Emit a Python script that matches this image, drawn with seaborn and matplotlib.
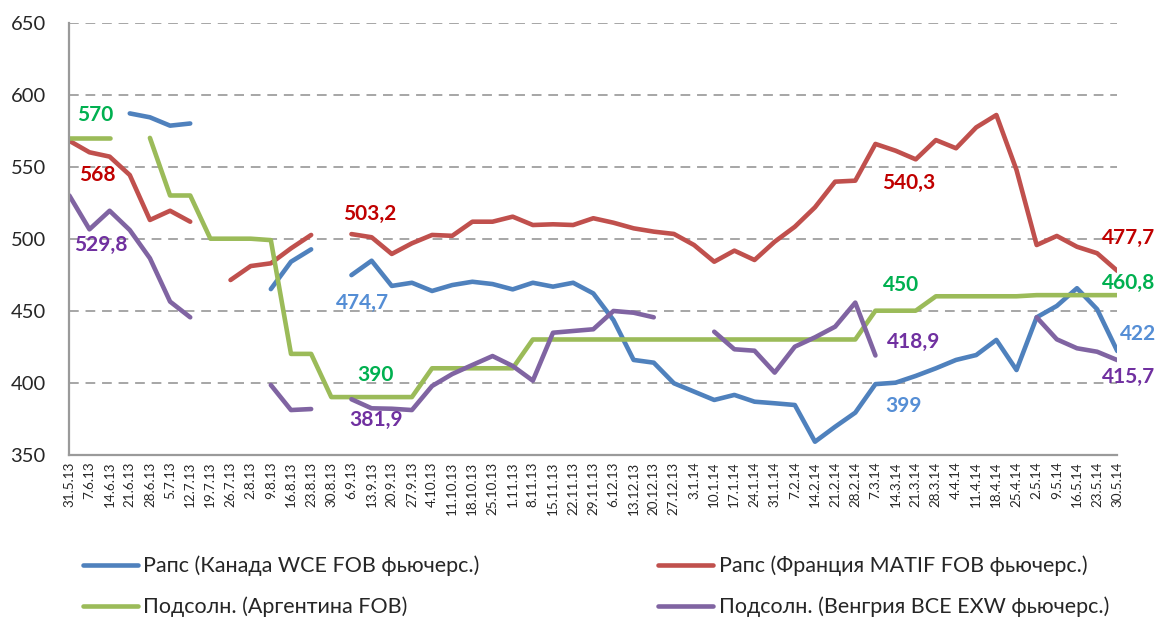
import numpy as np
import pandas as pd
import matplotlib
matplotlib.use("Agg")
import matplotlib.pyplot as plt
import seaborn as sns

nan = np.nan

dates = ['31.5.13', '7.6.13', '14.6.13', '21.6.13', '28.6.13', '5.7.13', '12.7.13', '19.7.13',
         '26.7.13', '2.8.13', '9.8.13', '16.8.13', '23.8.13', '30.8.13', '6.9.13', '13.9.13',
         '20.9.13', '27.9.13', '4.10.13', '11.10.13', '18.10.13', '25.10.13', '1.11.13', '8.11.13',
         '15.11.13', '22.11.13', '29.11.13', '6.12.13', '13.12.13', '20.12.13', '27.12.13', '3.1.14',
         '10.1.14', '17.1.14', '24.1.14', '31.1.14', '7.2.14', '14.2.14', '21.2.14', '28.2.14',
         '7.3.14', '14.3.14', '21.3.14', '28.3.14', '4.4.14', '11.4.14', '18.4.14', '25.4.14',
         '2.5.14', '9.5.14', '16.5.14', '23.5.14', '30.5.14']

canada = [nan, nan, nan, 587, 584.3, 578.5, 580, nan, nan, nan,
          465, 484, 492.6, nan, 474.7, 484.7, 467.2, 469.4, 463.7, 467.8,
          470.1, 468.5, 464.8, 469.4, 466.7, 469.4, 462, 443.5, 415.8, 413.9,
          399.6, 393.8, 388, 391.5, 386.8, 385.7, 384.5, 359, 369.4, 379.2,
          399, 400, 404.7, 410, 415.8, 419.2, 429.7, 408.8, 445.4, 453.3,
          465.6, 451, 422]

france = [568, 560, 557, 544.2, 513, 519.4, 511.8, nan, 471.3, 481,
          482.9, 493.3, 502.6, nan, 503.2, 501, 489.4, 496.8, 502.6, 502,
          511.8, 511.8, 515.3, 509.5, 510, 509.5, 514.2, 511.1, 507.2, 504.9,
          503.3, 495.6, 484, 491.7, 485.2, 497.9, 508.3, 521.8, 539.6, 540.3,
          565.8, 561.1, 555.1, 568.5, 562.8, 577.3, 585.9, 547.7, 495.6, 501.9,
          494.4, 489.9, 477.7]

argentina = [570, 570, 570, nan, 570, 530, 530, 500, 500, 500,
             499, 420, 420, 390, 390, 390, 390, 390, 410, 410,
             410, 410, 410, 430, 430, 430, 430, 430, 430, 430,
             430, 430, 430, 430, 430, 430, 430, 430, 430, 430,
             450, 450, 450, 460, 460, 460, 460, 460, 460.8, 460.8,
             460.8, 460.8, 460.8]

hungary = [530, 506.5, 519.4, 506, 486.4, 456.3, 445.4, nan, nan, nan,
           398.4, 381, 381.7, nan, 388.5, 382.2, 381.9, 381, 397.7, 406,
           412.3, 418.5, 411.6, 401.4, 434.7, 435.9, 437.1, 449.8, 448.6, 445.4,
           nan, nan, 435.4, 423.2, 422.2, 407, 425, 431.5, 438.9, 455.6,
           418.9, nan, nan, nan, nan, nan, nan, nan, 445.4, 430.1,
           423.9, 421.5, 415.7]

series_names = ['Рапс (Канада WCE FOB фьючерс.)',
                'Рапс (Франция MATIF FOB фьючерс.)',
                'Подсолн. (Аргентина FOB)',
                'Подсолн. (Венгрия BCE EXW фьючерс.)']
series_values = [canada, france, argentina, hungary]
line_colors = ['#4F81BD', '#C0504D', '#9BBB59', '#8064A2']

# value labels: (text, x index, y value, colour)
labels = [
    ('570', 1.3, 586, '#00B050'),
    ('568', 1.4, 544, '#C00000'),
    ('529,8', 1.55, 495.5, '#7030A0'),
    ('503,2', 14.9, 517.5, '#C00000'),
    ('474,7', 14.55, 455.5, '#558ED5'),
    ('390', 15.2, 405, '#00B050'),
    ('381,9', 15.2, 374, '#7030A0'),
    ('540,3', 41.65, 539, '#C00000'),
    ('450', 41.25, 468, '#00B050'),
    ('418,9', 41.9, 428.5, '#7030A0'),
    ('399', 41.4, 383.5, '#558ED5'),
    ('477,7', 52.55, 500.5, '#C00000'),
    ('460,8', 52.55, 469.5, '#00B050'),
    ('422', 53.05, 434, '#558ED5'),
    ('415,7', 52.55, 404, '#7030A0'),
]

# long-form data with segment ids so gaps stay open
rows = []
for name, vals in zip(series_names, series_values):
    seg = 0
    prev_nan = True
    for i, v in enumerate(vals):
        if np.isnan(v):
            prev_nan = True
            continue
        if prev_nan:
            seg += 1
            prev_nan = False
        rows.append({'x': i, 'value': v, 'series': name, 'seg': f'{name}_{seg}'})
df = pd.DataFrame(rows)

sns.set_theme(style='white')
plt.rcParams['font.family'] = ['Lato', 'DejaVu Sans']

fig = plt.figure(figsize=(11.59, 6.22), dpi=100)
ax = fig.add_axes([0.0598, 0.269, 0.9042, 0.6945])

sns.lineplot(data=df, x='x', y='value', hue='series', units='seg', estimator=None,
             hue_order=series_names, palette=line_colors, linewidth=3.3, ax=ax,
             legend=True, sort=True)

ax.set_xlim(0, 52)
ax.set_ylim(350, 650)
ax.set_yticks(np.arange(350, 651, 50))
ax.set_xticks(np.arange(len(dates)))
ax.set_xticklabels(dates, rotation=90, fontsize=9.7)
ax.tick_params(axis='y', labelsize=14.5, length=0, pad=17)
ax.tick_params(axis='x', length=0, pad=5)
ax.set_xlabel('')
ax.set_ylabel('')

for yv in np.arange(400, 651, 50):
    ax.axhline(yv, color='#A6A6A6', linewidth=1.4, linestyle=(0, (5, 3.5)), zorder=0)

for s in ['top', 'right']:
    ax.spines[s].set_visible(False)
for s in ['left', 'bottom']:
    ax.spines[s].set_color('#9A9A9A')
    ax.spines[s].set_linewidth(1.6)

for text, xi, yv, col in labels:
    ax.text(xi, yv, text, color=col, fontsize=15, fontweight='bold',
            ha='center', va='center', clip_on=False)

handles, lbls = ax.get_legend_handles_labels()
ax.get_legend().remove()
for h in handles:
    h.set_linewidth(3.3)
order = [0, 2, 1, 3]  # fill row-wise: row1 = Canada, France; row2 = Argentina, Hungary
fig.legend([handles[k] for k in order], [lbls[k] for k in order],
           loc='center left', bbox_to_anchor=(0.0716, 0.057),
           ncol=2, frameon=False, fontsize=15.5, handlelength=2.55, handletextpad=0.25,
           columnspacing=8.3, labelspacing=0.95, borderpad=0, borderaxespad=0)

fig.savefig('out.png', dpi=100)
